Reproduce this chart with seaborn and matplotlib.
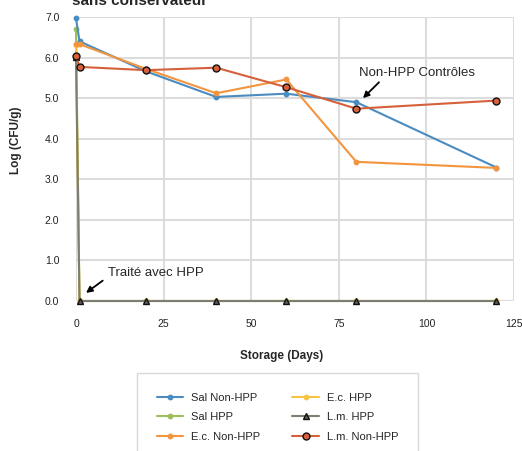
import matplotlib
matplotlib.use("Agg")
import matplotlib.pyplot as plt
import seaborn as sns
import pandas as pd

# storage days and log counts
days = [0, 1, 20, 40, 60, 80, 120]
sal_non_hpp = [6.97, 6.40, 5.66, 5.03, 5.11, 4.90, 3.29]
sal_hpp = [6.70, 0, 0, 0, 0, 0, 0]
ec_non_hpp = [6.33, 6.33, 5.72, 5.12, 5.46, 3.43, 3.28]
ec_hpp = [6.30, 0, 0, 0, 0, 0, 0]
lm_hpp = [6.02, 0, 0, 0, 0, 0, 0]
lm_non_hpp = [6.04, 5.77, 5.69, 5.75, 5.27, 4.74, 4.94]

legend_order = ['Sal Non-HPP', 'Sal HPP', 'E.c. Non-HPP', 'E.c. HPP', 'L.m. HPP', 'L.m. Non-HPP']

sns.set_style('whitegrid')
plt.rcParams['font.family'] = ['Liberation Sans', 'DejaVu Sans']

fig = plt.figure(figsize=(5.22, 4.51), dpi=100)
ax = fig.add_axes([76 / 522, 1 - 301 / 451, 438 / 522, 284 / 451])

df = pd.DataFrame({'day': days})

# (values, label, colour, marker, size, face, edge)
series = [
    (sal_hpp, 'Sal HPP', '#9dbe5a', 'o', 3.2, '#9dbe5a', '#9dbe5a'),
    (ec_hpp, 'E.c. HPP', '#f6c343', 'o', 3.2, '#f6c343', '#f6c343'),
    (sal_non_hpp, 'Sal Non-HPP', '#4a8bc0', 'o', 3.2, '#4a8bc0', '#4a8bc0'),
    (ec_non_hpp, 'E.c. Non-HPP', '#f3953e', 'o', 3.2, '#f3953e', '#f3953e'),
    (lm_hpp, 'L.m. HPP', '#7b7e70', '^', 5, '#5c5c5c', '#111111'),
    (lm_non_hpp, 'L.m. Non-HPP', '#d5603a', 'o', 5, '#d5603a', '#111111'),
]
for vals, label, color, marker, ms, face, edge in series:
    df[label] = vals
    sns.lineplot(data=df, x='day', y=label, ax=ax, label=label, color=color,
                 lw=1.5, marker=marker, markersize=ms, markerfacecolor=face,
                 markeredgecolor=edge, markeredgewidth=1.0, clip_on=False)

ax.set_xlim(0, 125)
ax.set_ylim(0, 7)
ax.set_xticks([0, 25, 50, 75, 100, 125])
ax.set_yticks([0, 1, 2, 3, 4, 5, 6, 7])
ax.set_yticklabels([f'{v:.1f}' for v in range(8)])
ax.grid(True, color='#dcdcdc', lw=1.5)
ax.tick_params(axis='both', length=0, labelsize=7.5, colors='#222222')
ax.tick_params(axis='x', pad=13)
ax.tick_params(axis='y', pad=12)
sns.despine(ax=ax, left=True, bottom=True)

ax.set_xlabel('Storage (Days)', fontsize=8.5, fontweight='bold')
ax.set_ylabel('Log (CFU/g)', fontsize=8.5, fontweight='bold')
ax.xaxis.set_label_coords(0.47, -0.173)
ax.yaxis.set_label_coords(-0.124, 0.567)

ax.annotate('Non-HPP Contrôles', xy=(81.9, 5.0), xytext=(80.8, 5.62),
            fontsize=9.5, va='center', ha='left',
            arrowprops=dict(arrowstyle='-|>', color='black', lw=1.3,
                            mutation_scale=9, shrinkA=0, shrinkB=0,
                            relpos=(0.2, 0.0)))
ax.annotate('Traité avec HPP', xy=(2.85, 0.2), xytext=(9.2, 0.69),
            fontsize=9.5, va='center', ha='left',
            arrowprops=dict(arrowstyle='-|>', color='black', lw=1.3,
                            mutation_scale=9, shrinkA=2, shrinkB=0,
                            relpos=(0.0, 0.2)))

# the reference crops this title line at the top edge
fig.text(72 / 522, 1 - 5 / 451, 'sans conservateur', fontsize=11,
         fontweight='bold', ha='left', va='baseline')

handles, labels = ax.get_legend_handles_labels()
lookup = dict(zip(labels, handles))
ax.get_legend().remove()
leg = fig.legend([lookup[l] for l in legend_order], legend_order, ncol=2,
                 loc='upper left', bbox_to_anchor=(136.7 / 522, 1 - 372.7 / 451),
                 fontsize=8, frameon=True, fancybox=False, borderpad=1.8,
                 labelspacing=0.85, handlelength=2.4, handletextpad=0.7,
                 columnspacing=2.9, borderaxespad=0)
leg.get_frame().set_edgecolor('#cfcfcf')
leg.get_frame().set_linewidth(1.0)

fig.savefig('out.png', dpi=100)
